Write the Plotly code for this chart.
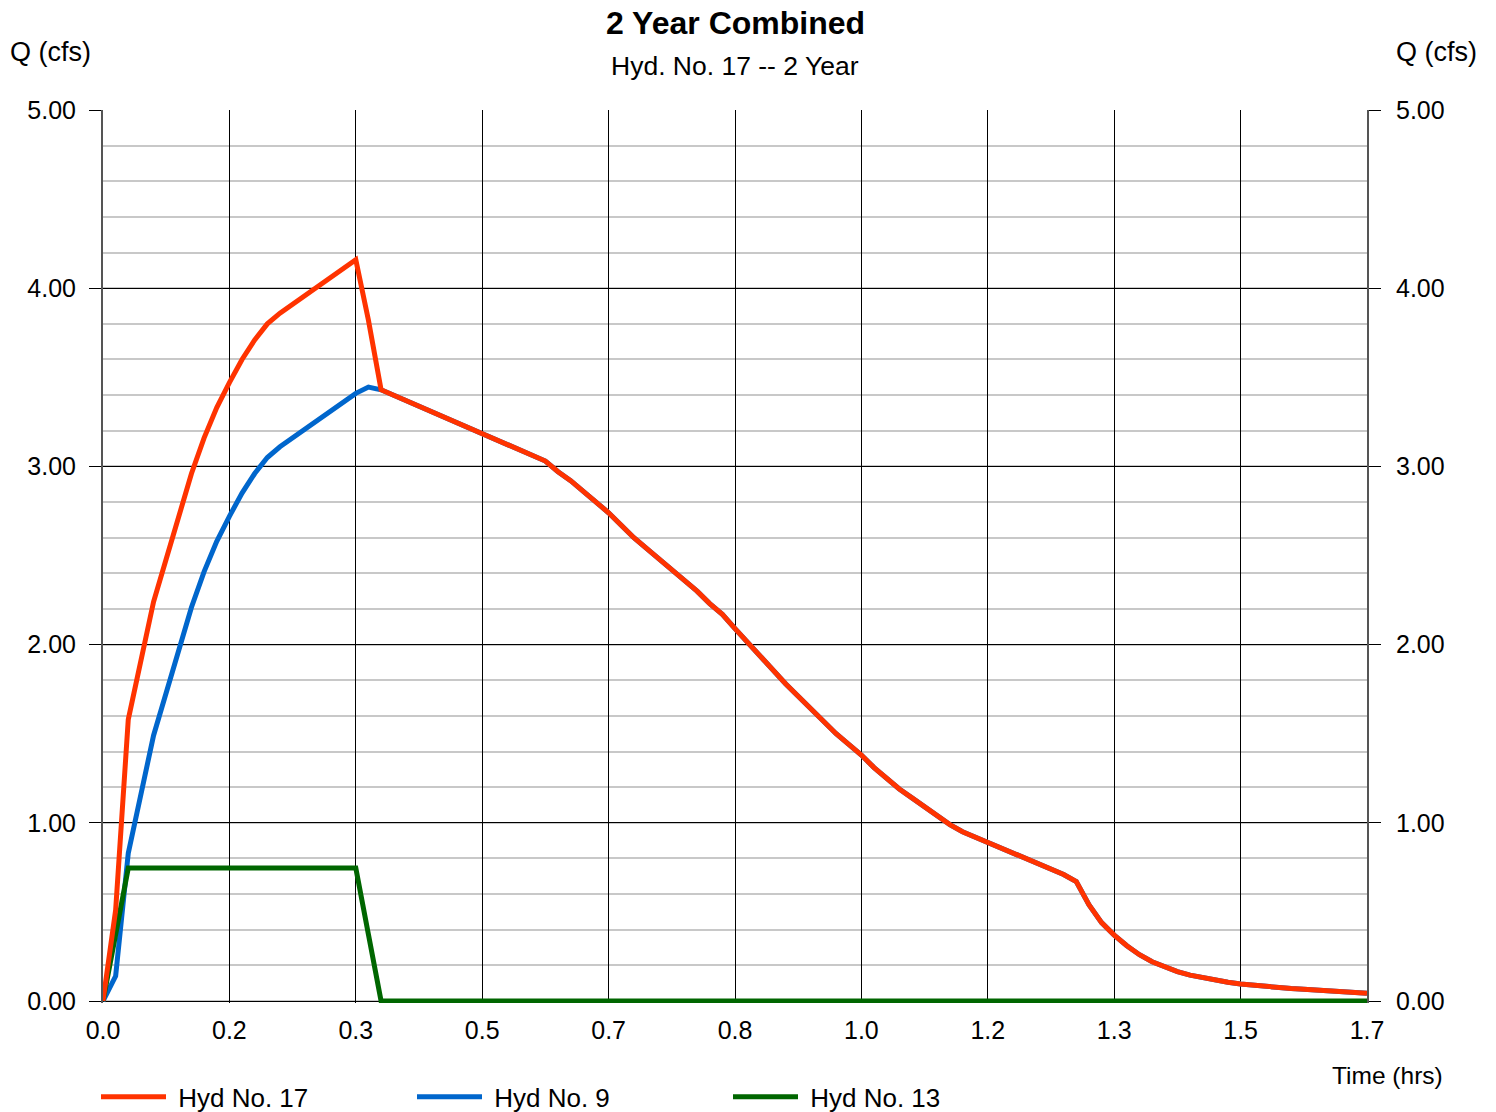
import plotly.graph_objects as go

# ---------------- data ----------------
time_min = list(range(0, 101))  # 1-minute time steps, 0..100 min

hyd17 = [
    0.00, 0.51, 1.58, 1.92, 2.24, 2.48, 2.73, 2.96, 3.16, 3.33,
    3.47, 3.60, 3.71, 3.80, 3.86, 3.91, 3.96, 4.01, 4.06, 4.11,
    4.16, 3.82, 3.430, 3.399, 3.368, 3.338, 3.307, 3.276, 3.245, 3.215,
    3.184, 3.153, 3.122, 3.092, 3.061, 3.030, 2.97, 2.92, 2.86, 2.80,
    2.74, 2.67, 2.60, 2.54, 2.48, 2.42, 2.36, 2.30, 2.23, 2.17,
    2.09, 2.01, 1.93, 1.85, 1.78, 1.71, 1.64, 1.57, 1.50, 1.44,
    1.38, 1.31, 1.25, 1.19, 1.14, 1.09, 1.04, 0.99, 0.95, 0.92,
    0.89, 0.86, 0.83, 0.80, 0.77, 0.74, 0.71, 0.67, 0.54, 0.44,
    0.37, 0.31, 0.26, 0.22, 0.19, 0.165, 0.145, 0.13, 0.115, 0.105,
    0.095, 0.087, 0.080, 0.075, 0.070, 0.066, 0.062, 0.057, 0.052, 0.047,
    0.043,
]

hyd9 = [
    0.00, 0.14, 0.83, 1.17, 1.49, 1.73, 1.98, 2.21, 2.41, 2.58,
    2.72, 2.85, 2.96, 3.05, 3.11, 3.16, 3.21, 3.26, 3.31, 3.36,
    3.41, 3.445, 3.430, 3.399, 3.368, 3.338, 3.307, 3.276, 3.245, 3.215,
    3.184, 3.153, 3.122, 3.092, 3.061, 3.030, 2.97, 2.92, 2.86, 2.80,
    2.74, 2.67, 2.60, 2.54, 2.48, 2.42, 2.36, 2.30, 2.23, 2.17,
    2.09, 2.01, 1.93, 1.85, 1.78, 1.71, 1.64, 1.57, 1.50, 1.44,
    1.38, 1.31, 1.25, 1.19, 1.14, 1.09, 1.04, 0.99, 0.95, 0.92,
    0.89, 0.86, 0.83, 0.80, 0.77, 0.74, 0.71, 0.67, 0.54, 0.44,
    0.37, 0.31, 0.26, 0.22, 0.19, 0.165, 0.145, 0.13, 0.115, 0.105,
    0.095, 0.087, 0.080, 0.075, 0.070, 0.066, 0.062, 0.057, 0.052, 0.047,
    0.043,
]

hyd13 = [
    0.00, 0.373, 0.746, 0.746, 0.746, 0.746, 0.746, 0.746, 0.746, 0.746,
    0.746, 0.746, 0.746, 0.746, 0.746, 0.746, 0.746, 0.746, 0.746, 0.746,
    0.746, 0.373, 0.00, 0.00, 0.00, 0.00, 0.00, 0.00, 0.00, 0.00,
    0.00, 0.00, 0.00, 0.00, 0.00, 0.00, 0.00, 0.00, 0.00, 0.00,
    0.00, 0.00, 0.00, 0.00, 0.00, 0.00, 0.00, 0.00, 0.00, 0.00,
    0.00, 0.00, 0.00, 0.00, 0.00, 0.00, 0.00, 0.00, 0.00, 0.00,
    0.00, 0.00, 0.00, 0.00, 0.00, 0.00, 0.00, 0.00, 0.00, 0.00,
    0.00, 0.00, 0.00, 0.00, 0.00, 0.00, 0.00, 0.00, 0.00, 0.00,
    0.00, 0.00, 0.00, 0.00, 0.00, 0.00, 0.00, 0.00, 0.00, 0.00,
    0.00, 0.00, 0.00, 0.00, 0.00, 0.00, 0.00, 0.00, 0.00, 0.00,
    0.00,
]

x_tick_minutes = [0, 10, 20, 30, 40, 50, 60, 70, 80, 90, 100]
x_tick_labels = ["0.0", "0.2", "0.3", "0.5", "0.7", "0.8", "1.0", "1.2", "1.3", "1.5", "1.7"]
y_tick_vals = [0, 1, 2, 3, 4, 5]
y_tick_labels = ["0.00", "1.00", "2.00", "3.00", "4.00", "5.00"]

# ---------------- figure ----------------
time_hrs = [t / 60.0 for t in time_min]
x_tick_hrs = [m / 60.0 for m in x_tick_minutes]

FONT = "Liberation Sans, Arial, Helvetica, sans-serif"
RED = "#FF3300"
BLUE = "#0066CC"
GREEN = "#006600"
LW = 5

fig = go.Figure()
fig.add_trace(go.Scatter(x=time_hrs, y=hyd9, mode="lines", name=" Hyd No. 9",
                         line=dict(color=BLUE, width=LW), legendrank=2))
fig.add_trace(go.Scatter(x=time_hrs, y=hyd13, mode="lines", name=" Hyd No. 13",
                         line=dict(color=GREEN, width=LW), legendrank=3))
fig.add_trace(go.Scatter(x=time_hrs, y=hyd17, mode="lines", name=" Hyd No. 17",
                         line=dict(color=RED, width=LW), legendrank=1))
# helper trace so the right-hand axis is drawn
fig.add_trace(go.Scatter(x=[None], y=[None], yaxis="y2", showlegend=False,
                         hoverinfo="skip", mode="lines"))

YR = [-0.0112, 5.0]
PW, PH = 1264, 893  # plot area size in px

fig.update_layout(
    width=1473, height=1104,
    margin=dict(l=95, r=114, t=102, b=109, autoexpand=False),
    plot_bgcolor="white", paper_bgcolor="white",
    font=dict(family=FONT, size=25, color="black"),
    showlegend=True,
    legend=dict(orientation="h", x=-7 / PW, y=-0.105, xanchor="left", yanchor="middle",
                itemwidth=65, entrywidth=236, entrywidthmode="pixels",
                font=dict(size=26, family=FONT), bgcolor="rgba(0,0,0,0)",
                traceorder="normal"),
    xaxis=dict(range=[0, 100 / 60.0], tickvals=x_tick_hrs, ticktext=x_tick_labels,
               showgrid=True, gridcolor="black", gridwidth=1,
               showline=False, zeroline=False, ticks="", ticklabelstandoff=10,
               tickfont=dict(size=25), layer="below traces"),
    yaxis=dict(range=YR, tickvals=y_tick_vals, ticktext=y_tick_labels,
               ticks="outside", ticklen=12, tickcolor="black", tickwidth=1,
               ticklabelstandoff=8,
               showgrid=True, gridcolor="black", gridwidth=1,
               minor=dict(dtick=0.2, tick0=0, showgrid=True, gridcolor="#c8c8c8",
                          gridwidth=2, ticks=""),
               showline=True, linecolor="#555555", linewidth=2,
               zeroline=True, zerolinecolor="black", zerolinewidth=1,
               tickfont=dict(size=25), layer="below traces"),
    yaxis2=dict(range=YR, overlaying="y", side="right", tickvals=y_tick_vals,
                ticktext=y_tick_labels, ticks="outside", ticklen=12,
                tickcolor="black", tickwidth=1, ticklabelstandoff=10,
                showgrid=False, zeroline=False,
                showline=True, linecolor="#555555", linewidth=2,
                tickfont=dict(size=25), layer="below traces"),
    annotations=[
        dict(text="<b>2 Year Combined</b>", xref="paper", yref="paper",
             x=0.5, y=(995 - 15) / PH, xanchor="center", yanchor="middle",
             showarrow=False, font=dict(size=32, family=FONT)),
        dict(text="Hyd. No. 17 -- 2 Year", xref="paper", yref="paper",
             x=0.5, y=(995 - 58) / PH, xanchor="center", yanchor="middle",
             showarrow=False, font=dict(size=26.5, family=FONT)),
        dict(text="Q (cfs)", xref="paper", yref="paper",
             x=(0 - 95) / PW, y=(995 - 44) / PH, xanchor="left", yanchor="middle",
             showarrow=False, font=dict(size=27, family=FONT)),
        dict(text="Q (cfs)", xref="paper", yref="paper",
             x=(1471 - 95) / PW, y=(995 - 44) / PH, xanchor="right", yanchor="middle",
             showarrow=False, font=dict(size=27, family=FONT)),
        dict(text="Time (hrs)", xref="paper", yref="paper",
             x=(1437 - 95) / PW, y=(995 - 1067) / PH, xanchor="right", yanchor="middle",
             showarrow=False, font=dict(size=24.5, family=FONT)),
    ],
)

fig.write_html("out.html")
